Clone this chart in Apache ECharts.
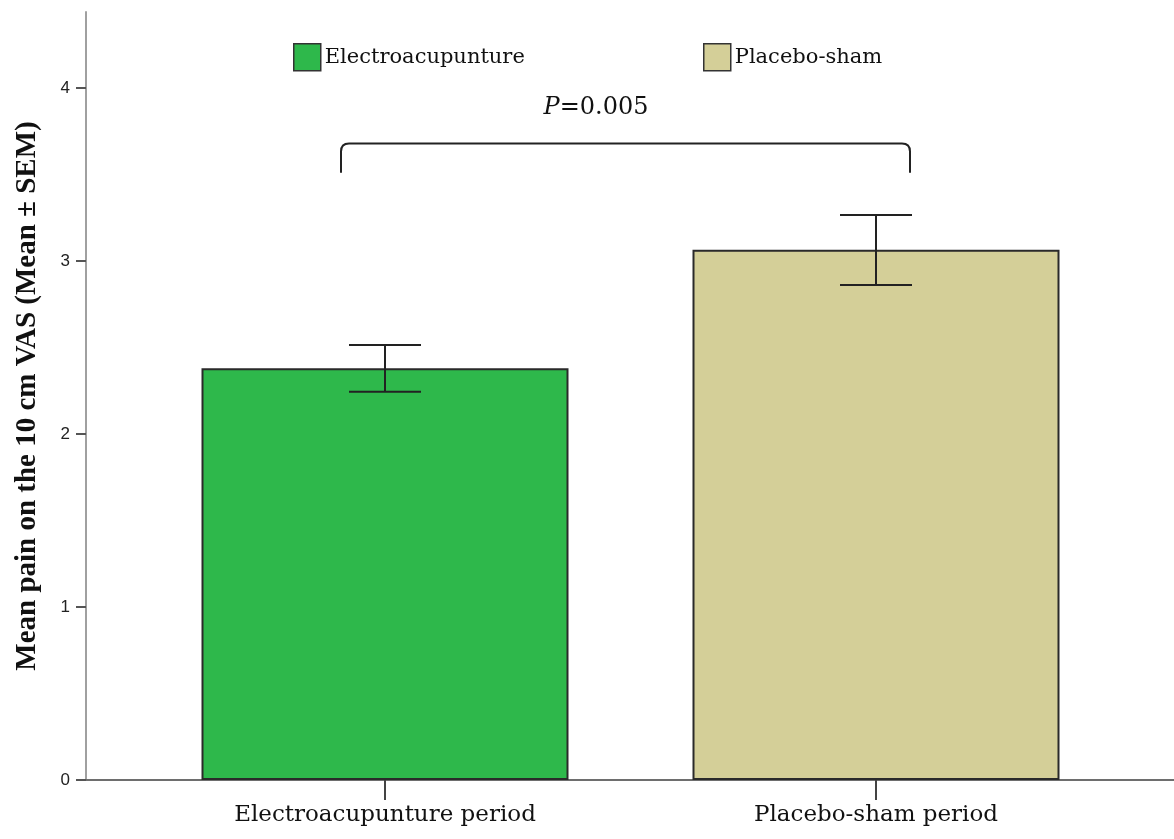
<!DOCTYPE html>
<html>
<head>
<meta charset="utf-8">
<script src="https://cdn.jsdelivr.net/npm/echarts@6/dist/echarts.min.js"></script>
<style>
html,body{margin:0;padding:0;background:#fff;}
#main{width:1174px;height:839px;}
</style>
</head>
<body>
<div id="main"></div>
<script>
// 数据
var categories = ['Electroacupunture period', 'Placebo-sham period'];
var seriesNames = ['Electroacupunture', 'Placebo-sham'];
var means = [2.38, 3.065];
var semLow = [2.245, 2.862];
var semHigh = [2.515, 3.267];
var barColors = ['#2eb84b', '#d4cf98'];
var yTicks = [0, 1, 2, 3, 4];
var pText = '0.005';
var bracketTop = 3.68, bracketFoot = 3.51;

var chart = echarts.init(document.getElementById('main'));
var serif = 'DejaVu Serif';

var barSeries = seriesNames.map(function (name, i) {
	var d = means.map(function (v, j) { return j === i ? v : '-'; });
	return {
		name: name,
		type: 'bar',
		xAxisIndex: 1,
		yAxisIndex: 1,
		barWidth: 367,
		barGap: '-100%',
		data: d,
		itemStyle: {color: barColors[i], borderColor: '#2a2a2a', borderWidth: 2}
	};
});

var legendStyle = function (left, name) {
	return {left: left, top: 38, icon: 'rect', itemWidth: 27, itemHeight: 27, itemGap: 6, data: [name],
		textStyle: {fontFamily: serif, fontSize: 21, color: '#111', padding: [0, 0, 0, -1]},
		itemStyle: {borderColor: '#333', borderWidth: 1.5}};
};

var option = {
	animation: false,
	backgroundColor: '#fff',
	legend: [legendStyle(288, seriesNames[0]), legendStyle(698, seriesNames[1])],
	grid: [
		{left: 86, right: 0, top: 12, bottom: 59},
		{left: 139.5, width: 982, top: 12, bottom: 59}
	],
	xAxis: [
		{gridIndex: 0, type: 'value', min: 0, max: 1,
			axisLine: {show: true, lineStyle: {color: '#6e6e6e', width: 2}},
			axisTick: {show: false}, axisLabel: {show: false}, splitLine: {show: false}},
		{gridIndex: 1, type: 'category', data: categories,
			axisLine: {show: false},
			axisTick: {show: true, alignWithLabel: true, length: 20, lineStyle: {color: '#444', width: 2}},
			axisLabel: {fontFamily: serif, fontSize: 23, color: '#111', margin: 24},
			splitLine: {show: false}}
	],
	yAxis: [
		{gridIndex: 0, type: 'value', min: 0, max: 4.44, interval: 1,
			name: 'Mean pain on the 10 cm VAS (Mean \u00b1 SEM)',
			nameLocation: 'middle', nameGap: 44,
			nameTextStyle: {fontFamily: 'Liberation Serif', fontSize: 29, fontWeight: 'bold', color: '#111'},
			axisLine: {show: true, lineStyle: {color: '#a0a0a0', width: 2}},
			axisTick: {show: true, length: 10, lineStyle: {color: '#555', width: 2}},
			axisLabel: {fontFamily: 'Liberation Sans', fontSize: 17, color: '#222', margin: 16,
				showMaxLabel: false,
				formatter: function (v) { return yTicks.indexOf(v) >= 0 ? v : ''; }},
			splitLine: {show: false}},
		{gridIndex: 1, type: 'value', min: 0, max: 4.44, show: false}
	],
	series: barSeries.concat([
		{
			type: 'custom',
			xAxisIndex: 1,
			yAxisIndex: 1,
			z: 5,
			data: means.map(function (v, i) { return [i, semLow[i], semHigh[i]]; }),
			renderItem: function (params, api) {
				var lo = api.coord([api.value(0), api.value(1)]);
				var hi = api.coord([api.value(0), api.value(2)]);
				var w = 36;
				var st = {stroke: '#222', lineWidth: 2};
				return {type: 'group', children: [
					{type: 'line', shape: {x1: hi[0], y1: hi[1], x2: lo[0], y2: lo[1]}, style: st},
					{type: 'line', shape: {x1: hi[0] - w, y1: hi[1], x2: hi[0] + w, y2: hi[1]}, style: st},
					{type: 'line', shape: {x1: lo[0] - w, y1: lo[1], x2: lo[0] + w, y2: lo[1]}, style: st}
				]};
			}
		},
		{
			type: 'custom',
			xAxisIndex: 1,
			yAxisIndex: 1,
			z: 5,
			data: [[0, 1, bracketTop, bracketFoot]],
			renderItem: function (params, api) {
				var a = api.coord([api.value(0), api.value(2)]);
				var b = api.coord([api.value(1), api.value(2)]);
				var foot = api.coord([0, api.value(3)])[1];
				var x1 = a[0] - 44, x2 = b[0] + 34, y = a[1], r = 8;
				return {type: 'group', children: [
					{type: 'path', shape: {pathData:
						'M' + x1 + ' ' + foot + ' L' + x1 + ' ' + (y + r) +
						' Q' + x1 + ' ' + y + ' ' + (x1 + r) + ' ' + y +
						' L' + (x2 - r) + ' ' + y +
						' Q' + x2 + ' ' + y + ' ' + x2 + ' ' + (y + r) +
						' L' + x2 + ' ' + foot},
						style: {stroke: '#222', lineWidth: 2, fill: null}},
					{type: 'text', x: 596, y: y - 36,
						style: {text: '{i|P}=' + pText, align: 'center', verticalAlign: 'middle',
							fontFamily: serif, fontSize: 24, fill: '#111',
							rich: {i: {fontStyle: 'italic', fontFamily: serif, fontSize: 24, fill: '#111'}}}}
				]};
			}
		}
	])
};
chart.setOption(option);
</script>
</body>
</html>
